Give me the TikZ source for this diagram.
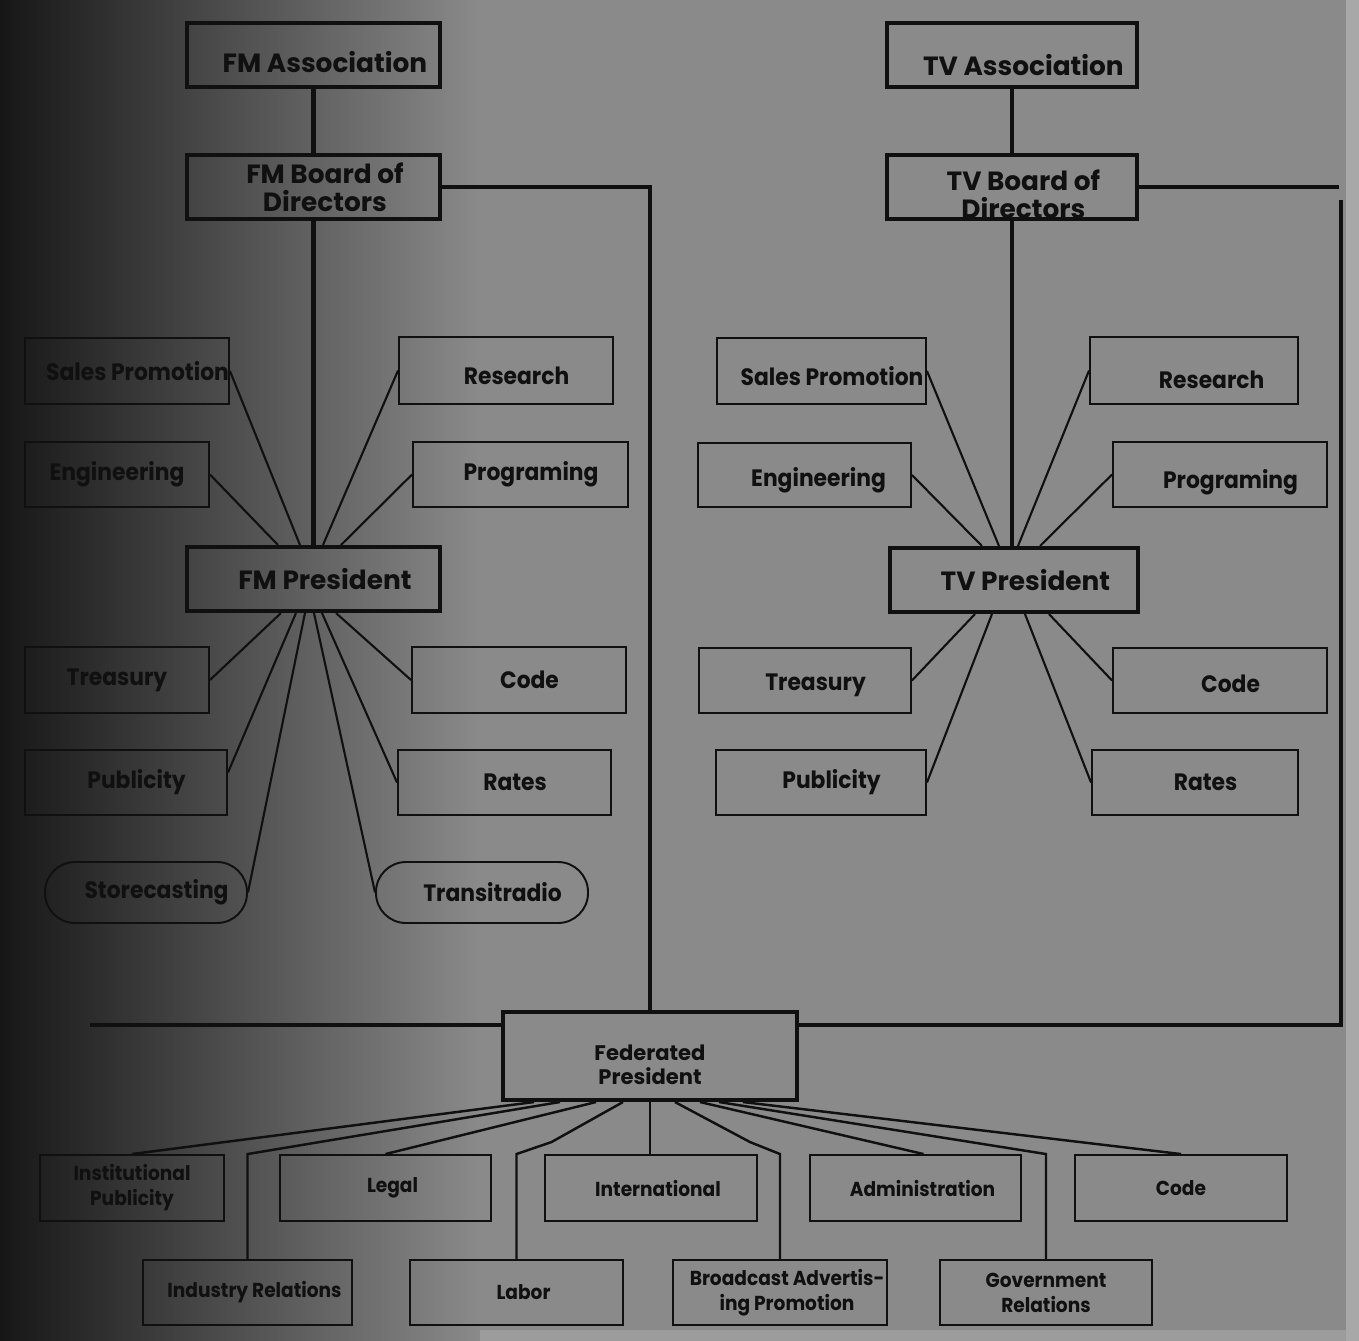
\documentclass[tikz,border=0pt]{standalone}
\usepackage{fontspec}
\setmainfont{Poppins}
\newfontfamily\midfont{Poppins}[FakeStretch=0.92]
\usetikzlibrary{calc}
\definecolor{bg}{RGB}{138,138,138}
\definecolor{ink}{RGB}{16,16,16}
\definecolor{shadeL}{RGB}{20,20,20}
\definecolor{shadeM}{RGB}{82,82,82}
\definecolor{paper}{RGB}{168,168,168}
\newcommand\pushr{\hspace*{13pt}}
\newcommand\pushs{\hspace*{12pt}}
\newcommand\pushb{\hspace*{8pt}}
\newcommand\dn[2]{\raisebox{-#1}[\height][\depth]{#2}}
\begin{document}
\begin{tikzpicture}[x=0.02cm,y=-0.02cm,
  tbox/.style 2 args={draw=ink, line width=2.3pt, minimum width=#1*0.02cm, minimum height=#2*0.02cm, inner sep=0pt, text=ink, align=center, font=\fontsize{15}{16}\selectfont\bfseries},
  sbox/.style 2 args={draw=ink, line width=1.1pt, minimum width=#1*0.02cm, minimum height=#2*0.02cm, inner sep=0pt, text=ink, align=center, font=\midfont\fontsize{13.5}{15}\selectfont\bfseries},
  rbox/.style 2 args={sbox={#1}{#2}, rounded corners=0.6cm},
  bbox/.style 2 args={sbox={#1}{#2}, font=\midfont\fontsize{11.5}{14.2}\selectfont\bfseries},
  heavy/.style={draw=ink, line width=2.3pt},
  spoke/.style={draw=ink, line width=1.2pt},
  fspoke/.style={draw=ink, line width=1.4pt}]
\useasboundingbox (0,0) rectangle (1359,1340);
% background
\fill[bg] (-10,-10) rectangle (1370,1350);
\shade[left color=shadeL, middle color=shadeM, right color=bg] (-10,-10) rectangle (480,1350);
\fill[paper] (1346,-10) rectangle (1370,1350);
\fill[paper!60!bg] (480,1330) rectangle (1346,1350);

% top boxes
\node[tbox={253}{64}] (fma) at (313.5,55) {\dn{4pt}{\pushr FM Association}};
\node[tbox={253}{64}] (fmb) at (313.5,187) {\pushr FM Board of\\\pushr Directors};
\node[tbox={253}{64}] (fmp) at (313.5,579) {\pushr FM President};
\node[tbox={250}{64}] (tva) at (1012,55) {\dn{6pt}{\pushr TV Association}};
\node[tbox={250}{64}] (tvb) at (1012,187) {\dn{4pt}{\pushr TV Board of}\\\dn{4pt}{\pushr Directors}};
\node[tbox={248}{64}] (tvp) at (1014,580) {\pushr TV President};
\node[tbox={294}{88}, font=\fontsize{12}{13.6}\selectfont\bfseries] (fed) at (650,1056) {\dn{5pt}{Federated}\\\dn{5pt}{President}};

% FM departments
\node[sbox={204}{66}] (fsp) at (127,371) {\pushs Sales Promotion};
\node[sbox={184}{65}] (feng) at (117,474.5) {Engineering};
\node[sbox={214}{67}] (fres) at (506,370.5) {\dn{3pt}{\pushs Research}};
\node[sbox={215}{65}] (fprog) at (520.5,474.5) {\pushs Programing};
\node[sbox={184}{66}] (ftre) at (117,680) {Treasury};
\node[sbox={202}{65}] (fpub) at (126,782.5) {\pushs Publicity};
\node[rbox={202}{61}] (fsto) at (146,892.5) {\pushs Storecasting};
\node[sbox={214}{66}] (fcode) at (519,680) {\pushs Code};
\node[sbox={213}{65}] (frates) at (504.5,782.5) {\pushs Rates};
\node[rbox={212}{61}] (ftra) at (482,892.5) {\pushs Transitradio};

% TV departments
\node[sbox={209}{66}] (tsp) at (821.5,371) {\dn{3pt}{\pushs Sales Promotion}};
\node[sbox={213}{64}] (teng) at (804.5,475) {\dn{3pt}{\hspace*{16pt}Engineering}};
\node[sbox={208}{67}] (tres) at (1194,370.5) {\dn{5.5pt}{\hspace*{20pt}Research}};
\node[sbox={214}{65}] (tprog) at (1220,474.5) {\dn{4.5pt}{\pushs Programing}};
\node[sbox={212}{65}] (ttre) at (805,680.5) {\dn{3pt}{\pushs Treasury}};
\node[sbox={210}{65}] (tpub) at (821,782.5) {\pushs Publicity};
\node[sbox={214}{65}] (tcode) at (1220,680.5) {\dn{2pt}{\pushs Code}};
\node[sbox={206}{65}] (trates) at (1195,782.5) {\pushs Rates};

% Federated departments
\node[bbox={184}{66}] (binst) at (132,1188) {Institutional\\Publicity};
\node[bbox={211}{66}] (blegal) at (385.5,1188) {\pushb Legal};
\node[bbox={212}{66}] (bintl) at (651,1188) {\pushb International};
\node[bbox={211}{66}] (badmin) at (915.5,1188) {\pushb Administration};
\node[bbox={212}{66}] (bcode) at (1181,1188) {Code};
\node[bbox={209}{65}] (bind) at (247.5,1292.5) {\pushb Industry Relations};
\node[bbox={213}{65}] (blabor) at (516.5,1292.5) {\pushb Labor};
\node[bbox={214}{65}] (bbap) at (780,1292.5) {\pushb Broadcast Advertis-\\\pushb ing Promotion};
\node[bbox={212}{65}] (bgov) at (1046,1292.5) {Government\\Relations};

% free ends
\coordinate (tvend) at (1339,187);
\coordinate (rtop) at (1341,200);
\coordinate (rbot) at (1341,1025);
\coordinate (lend) at (90,1025);

% main lines
\draw[heavy] (fma) -- (fmb);
\draw[heavy] (fmb) -- (fmp);
\draw[heavy] (tva) -- (tvb);
\draw[heavy] (tvb.south) -- (tvb.south |- tvp.north);
\draw[heavy] (fmb.east) -| (fed.north);
\draw[heavy] (tvb.east) -- (tvend);
\draw[heavy] (rtop) -- (rbot) -- (rbot -| fed.east);
\draw[heavy] (lend) -- (lend -| fed.west);

% FM spokes
\draw[spoke] (feng.east) -- ($(fmp.north west)+(93,0)$);
\draw[spoke] (fsp.east) -- ($(fmp.north west)+(115,0)$);
\draw[spoke] (fres.west) -- ($(fmp.north west)+(138,0)$);
\draw[spoke] (fprog.west) -- ($(fmp.north west)+(156,0)$);
\draw[spoke] (ftre.east) -- ($(fmp.south west)+(96,0)$);
\draw[spoke] ($(fpub.east)+(0,-10)$) -- ($(fmp.south west)+(111,0)$);
\draw[spoke] (fsto.east) -- ($(fmp.south west)+(120,0)$);
\draw[spoke] (ftra.west) -- ($(fmp.south west)+(129,0)$);
\draw[spoke] (frates.west) -- ($(fmp.south west)+(137,0)$);
\draw[spoke] (fcode.west) -- ($(fmp.south west)+(151,0)$);

% TV spokes
\draw[spoke] (teng.east) -- ($(tvp.north west)+(94,0)$);
\draw[spoke] (tsp.east) -- ($(tvp.north west)+(111,0)$);
\draw[spoke] (tres.west) -- ($(tvp.north west)+(130,0)$);
\draw[spoke] (tprog.west) -- ($(tvp.north west)+(152,0)$);
\draw[spoke] (ttre.east) -- ($(tvp.south west)+(87,0)$);
\draw[spoke] (tpub.east) -- ($(tvp.south west)+(104,0)$);
\draw[spoke] (trates.west) -- ($(tvp.south west)+(137,0)$);
\draw[spoke] (tcode.west) -- ($(tvp.south west)+(161,0)$);

% Federated spokes
\draw[fspoke] ($(fed.south west)+(33,0)$) -- (binst.north);
\draw[fspoke] ($(fed.south west)+(59,0)$) -- (bind.north |- binst.north) -- (bind.north);
\draw[fspoke] ($(fed.south west)+(95,0)$) -- (blegal.north);
\draw[fspoke] ($(fed.south west)+(122,0)$) -- ($(blabor.north |- bintl.north)+(35,-12)$) -- (blabor.north |- bintl.north) -- (blabor.north);
\draw[fspoke] (fed.south) -- (fed.south |- bintl.north);
\draw[fspoke] ($(fed.south west)+(174,0)$) -- ($(bbap.north |- bintl.north)+(-30,-12)$) -- (bbap.north |- bintl.north) -- (bbap.north);
\draw[fspoke] ($(fed.south west)+(199,0)$) -- ($(badmin.north)+(8,0)$);
\draw[fspoke] ($(fed.south west)+(218,0)$) -- (bgov.north |- bcode.north) -- (bgov.north);
\draw[fspoke] ($(fed.south west)+(242,0)$) -- (bcode.north);
\end{tikzpicture}
\end{document}
